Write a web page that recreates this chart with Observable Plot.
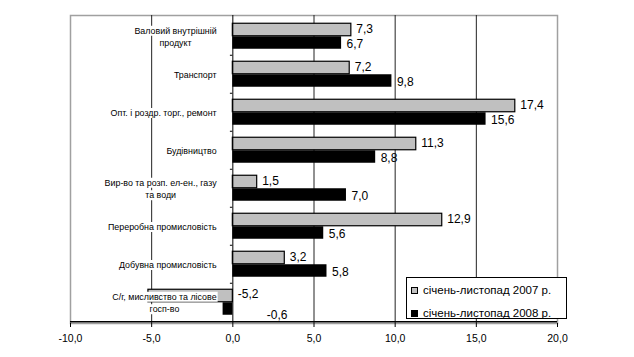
<!DOCTYPE html>
<html><head><meta charset="utf-8">
<script src="https://cdn.jsdelivr.net/npm/d3@7"></script>
<script src="https://cdn.jsdelivr.net/npm/@observablehq/plot@0.6"></script>
<style>
body{margin:0;background:#fff;}
#wrap{position:relative;width:634px;height:357px;font-family:"Liberation Sans",Arial,sans-serif;}
#legend{position:absolute;left:406px;top:277px;width:161px;height:42px;border:1px solid #000;background:#fff;font-size:11.5px;color:#000;box-sizing:border-box;}
#legend .row{position:absolute;left:4px;height:14px;line-height:14px;white-space:nowrap;}
#legend .sw{display:inline-block;width:7px;height:7px;border:1px solid #000;box-sizing:border-box;margin-right:5px;vertical-align:0px;}
</style></head><body><div id="wrap"></div>
<script>
const categories = [
  "Валовий внутрішній\nпродукт",
  "Транспорт",
  "Опт. і роздр. торг., ремонт",
  "Будівництво",
  "Вир-во та розп. ел-ен., газу\nта води",
  "Переробна промисловість",
  "Добувна промисловість",
  "С/г, мисливство та лісове\nгосп-во"
];
const values2007 = [7.3, 7.2, 17.4, 11.3, 1.5, 12.9, 3.2, -5.2];
const values2008 = [6.7, 9.8, 15.6, 8.8, 7.0, 5.6, 5.8, -0.6];
const seriesNames = ["січень-листопад 2007 р.", "січень-листопад 2008 р."];
const seriesColors = ["#c0c0c0", "#000000"];
const xTicks = [-10, -5, 0, 5, 10, 15, 20];
const gridValues = [-5, 5, 10, 15];

const FONT = '"Liberation Sans", Arial, sans-serif';
const fmt = v => v.toFixed(1).replace(".", ",");
const d2007 = categories.map((c, i) => ({category: c, value: values2007[i]}));
const d2008 = categories.map((c, i) => ({category: c, value: values2008[i]}));

const catFont = 8.9;
const ctx = document.createElement("canvas").getContext("2d");
ctx.font = `${catFont}px "Liberation Sans"`;
const maxW = categories.map(c => Math.max(...c.split("\n").map(l => ctx.measureText(l).width)));

const half = 19.25;
const plot = Plot.plot({
  width: 634, height: 357,
  marginTop: 15, marginBottom: 34, marginLeft: 70, marginRight: 77,
  style: {fontFamily: FONT, background: "#fff", color: "#000"},
  x: {domain: [-10, 20], label: null},
  y: {type: "band", domain: categories, padding: 0, axis: null},
  marks: [
    Plot.frame({stroke: "#a0a0a0", strokeWidth: 1.5}),
    Plot.ruleX(gridValues, {stroke: "#222", strokeWidth: 1}),
    Plot.barX(d2007, {x: "value", y: "category", fill: seriesColors[0], stroke: "#000", strokeWidth: 1.2, insetTop: 6.25, insetBottom: half}),
    Plot.barX(d2008, {x: "value", y: "category", fill: seriesColors[1], insetTop: half, insetBottom: 6.25}),
    Plot.ruleX([0], {stroke: "#000", strokeWidth: 1}),
    Plot.ruleY(categories.slice(1), {y: d => d, x1: -0.15, x2: 0, dy: -half, stroke: "#000"}),
    Plot.ruleY([categories[categories.length - 1]], {y: d => d, dy: half, stroke: "#000", strokeWidth: 1.5}),
    Plot.axisX({ticks: xTicks, tickFormat: d => d.toFixed(1).replace(".", ","), tickSize: 4, tickPadding: 7, fontSize: 10.5, label: null}),
    ...categories.map((c, i) => Plot.text([c], {
      x: () => -1, y: d => d, text: d => d, textAnchor: "middle", dx: -maxW[i] / 2, dy: -0.5,
      fontSize: catFont, lineHeight: 1.4, ariaLabel: () => "catlab", fill: "#000"
    })),
    Plot.text(d2007.filter(d => d.value >= 0), {x: "value", y: "category", text: d => fmt(d.value), textAnchor: "start", dx: 5, dy: -7, fontSize: 12}),
    Plot.text(d2008.filter(d => d.value >= 0), {x: "value", y: "category", text: d => fmt(d.value), textAnchor: "start", dx: 5, dy: 7.5, fontSize: 12}),
    Plot.text(d2007.filter(d => d.value < 0), {x: () => 0, y: "category", text: d => fmt(d.value), textAnchor: "start", dx: 5, dy: -8, fontSize: 12}),
    Plot.text(d2008.filter(d => d.value < 0), {x: () => 0, y: "category", text: d => fmt(d.value), textAnchor: "start", dx: 34, dy: 13, fontSize: 12})
  ]
});
const wrap = document.getElementById("wrap");
wrap.appendChild(plot);

// white boxes behind category labels
const labelTexts = new Set();
plot.querySelectorAll('text[aria-label="catlab"]').forEach(t => labelTexts.add(t));
plot.querySelectorAll('g[font-size="' + catFont + '"] text').forEach(t => labelTexts.add(t));
labelTexts.forEach(t => {
  const parts = t.querySelectorAll("tspan");
  const els = parts.length ? Array.from(parts) : [t];
  els.forEach(el => {
    const b = el.getBBox();
    const r = document.createElementNS("http://www.w3.org/2000/svg", "rect");
    r.setAttribute("x", b.x - 1);
    r.setAttribute("y", b.y);
    r.setAttribute("width", b.width + 2);
    r.setAttribute("height", b.height);
    r.setAttribute("fill", "#fff");
    if (t.getAttribute("transform")) r.setAttribute("transform", t.getAttribute("transform"));
    t.parentNode.insertBefore(r, t);
  });
});

// legend
const legend = document.createElement("div");
legend.id = "legend";
seriesNames.forEach((name, i) => {
  const row = document.createElement("div");
  row.className = "row";
  row.style.top = (5 + i * 23) + "px";
  const sw = document.createElement("span");
  sw.className = "sw";
  sw.style.background = seriesColors[i];
  row.appendChild(sw);
  row.appendChild(document.createTextNode(name));
  legend.appendChild(row);
});
wrap.appendChild(legend);
</script></body></html>
